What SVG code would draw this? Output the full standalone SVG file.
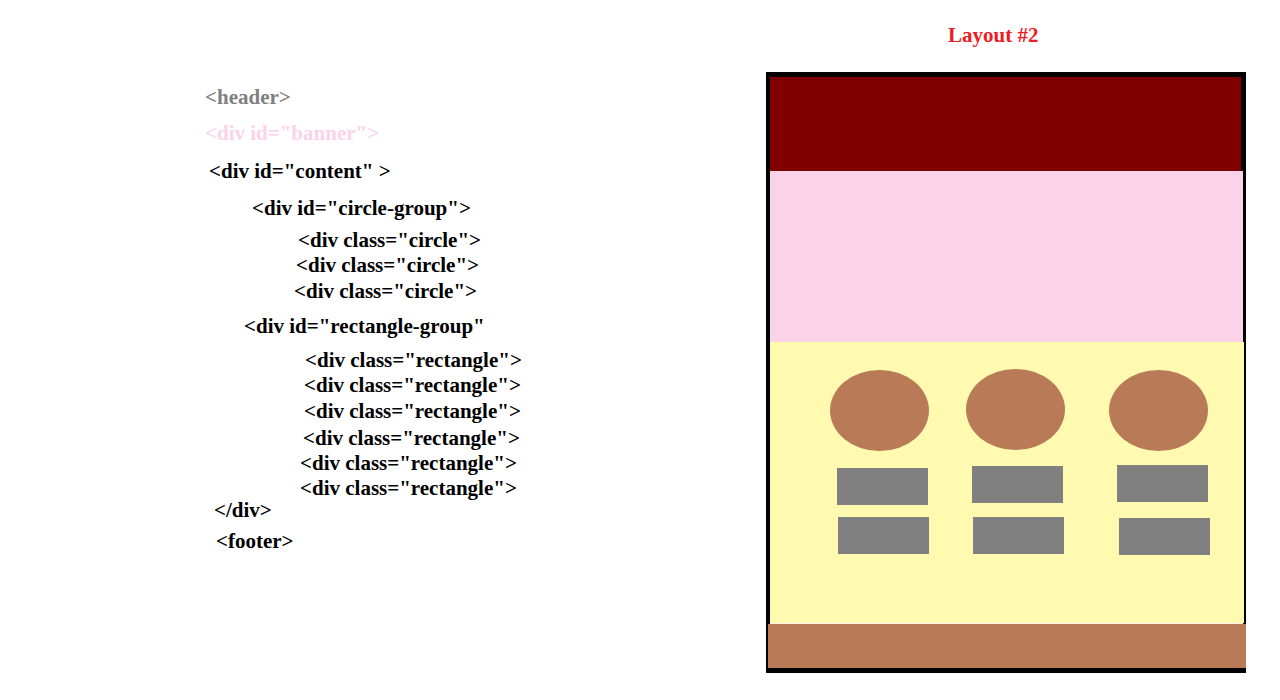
<svg xmlns="http://www.w3.org/2000/svg" width="1280" height="700" viewBox="0 0 1280 700">
<style>
text{font-family:"Liberation Serif","Times New Roman",serif;font-weight:bold;font-size:21px;fill:#000}
.gray{fill:#808080}
.pink{fill:#FBD3E9}
.title{fill:#EE1C25}
.circ{fill:#B97A57}
.rect{fill:#808080}
</style>
<rect width="1280" height="700" fill="#fff"/>
<g id="title"><text class="title" x="948" y="42">Layout #2</text></g>
<g id="code">
<text class="gray" x="205" y="104">&lt;header&gt;</text>
<text class="pink" x="205" y="140">&lt;div id="banner"&gt;</text>
<text x="209" y="178">&lt;div id="content" &gt;</text>
<text x="252" y="215">&lt;div id="circle-group"&gt;</text>
<text x="298" y="247">&lt;div class="circle"&gt;</text>
<text x="296" y="272">&lt;div class="circle"&gt;</text>
<text x="294" y="298">&lt;div class="circle"&gt;</text>
<text x="244" y="333">&lt;div id="rectangle-group"</text>
<text x="305" y="367">&lt;div class="rectangle"&gt;</text>
<text x="304" y="392">&lt;div class="rectangle"&gt;</text>
<text x="304" y="418">&lt;div class="rectangle"&gt;</text>
<text x="303" y="445">&lt;div class="rectangle"&gt;</text>
<text x="300" y="470">&lt;div class="rectangle"&gt;</text>
<text x="300" y="495">&lt;div class="rectangle"&gt;</text>
<text x="214" y="517">&lt;/div&gt;</text>
<text x="216" y="548">&lt;footer&gt;</text>
</g>
<g id="layout">
<rect x="766" y="72" width="480" height="601" fill="#000"/>
<rect id="header" x="770" y="77" width="471" height="94" fill="#800000"/>
<rect id="banner" x="770" y="171" width="473" height="171" fill="#FBD3E9"/>
<rect id="content" x="770" y="342" width="474" height="281" fill="#FFFAB0"/>
<rect x="770" y="623" width="473" height="1" fill="#F4F0E0"/>
<rect id="footer" x="768" y="624" width="478" height="44" fill="#B97A57"/>
</g>
<g id="circles">
<ellipse class="circ" cx="879.5" cy="410.5" rx="49.5" ry="40.5"/>
<ellipse class="circ" cx="1015.5" cy="409.5" rx="49.5" ry="40.5"/>
<ellipse class="circ" cx="1158.5" cy="410.5" rx="49.5" ry="40.5"/>
</g>
<g id="rectangles">
<rect class="rect" x="837" y="468" width="91" height="37"/>
<rect class="rect" x="972" y="466" width="91" height="37"/>
<rect class="rect" x="1117" y="465" width="91" height="37"/>
<rect class="rect" x="838" y="517" width="91" height="37"/>
<rect class="rect" x="973" y="517" width="91" height="37"/>
<rect class="rect" x="1119" y="518" width="91" height="37"/>
</g>
<g id="connectors"/>
</svg>
